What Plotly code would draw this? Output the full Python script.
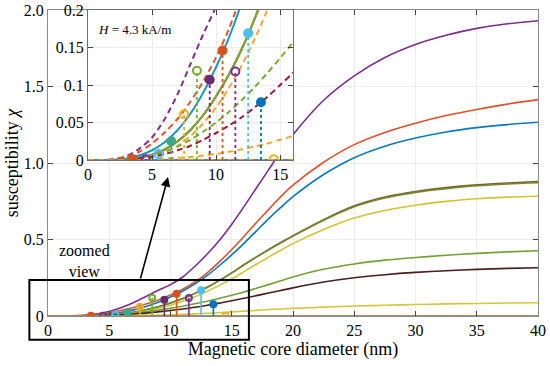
import plotly.graph_objects as go

# Diameter grid (nm)
diameter = [0, 1, 2, 3, 4, 5, 6, 7, 8, 9, 10, 11, 12, 13, 14, 15, 16, 17, 18, 19, 20,
            22.5, 25, 27.5, 30, 32.5, 35, 37.5, 40]

chi_purple = [0, 0, 0.001, 0.005, 0.015, 0.030, 0.055, 0.088, 0.128, 0.168, 0.205, 0.255, 0.325,
              0.405, 0.495, 0.600, 0.715, 0.835, 0.955, 1.075, 1.185,
              1.410, 1.570, 1.690, 1.775, 1.835, 1.880, 1.910, 1.930]
chi_red = [0, 0, 0.001, 0.004, 0.011, 0.022, 0.037, 0.055, 0.078, 0.105, 0.137, 0.175, 0.222,
           0.282, 0.355, 0.435, 0.520, 0.610, 0.695, 0.780, 0.855,
           1.005, 1.120, 1.200, 1.260, 1.310, 1.350, 1.385, 1.414]
chi_blue = [0, 0, 0, 0.002, 0.006, 0.013, 0.024, 0.040, 0.062, 0.090, 0.124, 0.163, 0.210,
            0.265, 0.330, 0.400, 0.475, 0.555, 0.635, 0.710, 0.780,
            0.925, 1.035, 1.110, 1.163, 1.203, 1.231, 1.251, 1.266]
chi_darkred = [0, 0, 0, 0.001, 0.003, 0.007, 0.014, 0.025, 0.040, 0.060, 0.085, 0.114, 0.148,
               0.188, 0.233, 0.282, 0.335, 0.385, 0.433, 0.480, 0.525,
               0.630, 0.720, 0.778, 0.814, 0.839, 0.857, 0.869, 0.878]
chi_green = [0, 0, 0, 0.001, 0.003, 0.007, 0.014, 0.025, 0.040, 0.060, 0.085, 0.114, 0.148,
             0.188, 0.233, 0.282, 0.335, 0.385, 0.433, 0.478, 0.522,
             0.626, 0.714, 0.771, 0.808, 0.832, 0.851, 0.863, 0.871]
chi_yellow = [0, 0, 0, 0.001, 0.002, 0.005, 0.010, 0.019, 0.032, 0.049, 0.070, 0.096, 0.126,
              0.161, 0.200, 0.243, 0.290, 0.338, 0.385, 0.430, 0.473,
              0.565, 0.640, 0.690, 0.724, 0.749, 0.766, 0.777, 0.783]
chi_green2 = [0, 0, 0, 0.001, 0.003, 0.006, 0.011, 0.018, 0.027, 0.038, 0.050, 0.064, 0.080,
              0.097, 0.116, 0.136, 0.157, 0.181, 0.205, 0.230, 0.255,
              0.305, 0.340, 0.365, 0.382, 0.397, 0.409, 0.419, 0.426]
chi_maroon = [0, 0, 0, 0.001, 0.002, 0.004, 0.008, 0.013, 0.019, 0.027, 0.036, 0.046, 0.057,
              0.070, 0.084, 0.100, 0.116, 0.133, 0.150, 0.167, 0.184,
              0.222, 0.250, 0.270, 0.285, 0.296, 0.305, 0.311, 0.315]
chi_low = [0, 0, 0, 0, 0, 0.001, 0.002, 0.003, 0.004, 0.006, 0.008, 0.011, 0.014,
           0.018, 0.022, 0.027, 0.032, 0.037, 0.042, 0.046, 0.050,
           0.058, 0.065, 0.070, 0.075, 0.079, 0.082, 0.085, 0.087]
chi_flat = [0] * len(diameter)

series = [chi_purple, chi_red, chi_blue, chi_darkred, chi_green, chi_yellow,
          chi_green2, chi_maroon, chi_low, chi_flat, chi_flat]
main_colors = ['#7B2D8E', '#E0502A', '#0A78BE', '#8A5A2A', '#6E8A30', '#D2C236',
               '#73A032', '#4A1E1E', '#D6C63C', '#1A96CC', '#C8803C']
inset_colors = ['#7E2F8E', '#E8542A', '#1A96CC', '#A2142F', '#77AC30', '#F0A832',
                '#77AC30', '#A2142F', '#F0A832', '#1A96CC', '#F08C32']
inset_dash = ['dash', 'dash', 'solid', 'solid', 'solid', 'dash',
              'dash', 'dash', 'dash', 'solid', 'dash']

# Critical-diameter stems
stem_d = [3.5, 4.5, 5.5, 6.5, 7.5, 8.5, 9.5, 10.5, 11.5, 12.5, 13.5, 14.5]
stem_chi = [0.001, 0.001, 0.008, 0.025, 0.061, 0.119, 0.107, 0.146, 0.118, 0.169, 0.077, 0.001]
stem_colors = ['#D95319', '#7E2F8E', '#4DBEEE', '#3FA58A', '#EDB120', '#77AC30',
               '#6A2C70', '#D95319', '#7E2F8E', '#4DBEEE', '#0072BD', '#EDB120']
stem_filled = [True, False, False, True, False, False, True, True, False, True, True, False]

x_ticks = [0, 5, 10, 15, 20, 25, 30, 35, 40]
y_ticks = [0, 0.5, 1.0, 1.5, 2.0]
y_ticklabels = ['0', '0.5', '1.0', '1.5', '2.0']
x2_ticks = [0, 5, 10, 15]
y2_ticks = [0, 0.05, 0.1, 0.15, 0.2]
y2_ticklabels = ['0', '0.05', '0.1', '0.15', '0.2']

FONT = 'Liberation Serif'

fig = go.Figure()

# main curves
for vals, col in zip(series, main_colors):
    fig.add_trace(go.Scatter(x=diameter, y=vals, mode='lines', line=dict(color=col, width=1.6, shape='spline', smoothing=0.8),
                             xaxis='x', yaxis='y', showlegend=False, hoverinfo='skip'))
# main stems
for d, c, col, filled in zip(stem_d, stem_chi, stem_colors, stem_filled):
    fig.add_trace(go.Scatter(x=[d, d], y=[0, c], mode='lines', line=dict(color=col, width=1.6),
                             xaxis='x', yaxis='y', showlegend=False, hoverinfo='skip'))
    fig.add_trace(go.Scatter(x=[d], y=[c], mode='markers',
                             marker=dict(symbol='circle' if filled else 'circle-open', size=6, color=col,
                                         line=dict(color=col, width=2)),
                             xaxis='x', yaxis='y', showlegend=False, hoverinfo='skip'))

# inset curves
for vals, col, dsh in zip(series, inset_colors, inset_dash):
    fig.add_trace(go.Scatter(x=diameter, y=vals, mode='lines',
                             line=dict(color=col, width=2, dash='6px,4px' if dsh == 'dash' else 'solid',
                                       shape='spline', smoothing=0.8),
                             xaxis='x2', yaxis='y2', showlegend=False, hoverinfo='skip'))
# inset stems
for d, c, col, filled in zip(stem_d, stem_chi, stem_colors, stem_filled):
    fig.add_trace(go.Scatter(x=[d, d], y=[0, c], mode='lines', line=dict(color=col, width=1.8, dash='dot'),
                             xaxis='x2', yaxis='y2', showlegend=False, hoverinfo='skip'))
    fig.add_trace(go.Scatter(x=[d], y=[c], mode='markers',
                             marker=dict(symbol='circle' if filled else 'circle-open', size=8, color=col,
                                         line=dict(color=col, width=2)),
                             xaxis='x2', yaxis='y2', showlegend=False, hoverinfo='skip'))

axis_common = dict(showline=True, mirror='ticks', ticks='inside', ticklen=5, zeroline=False,
                   showgrid=True, gridcolor='#ececec', gridwidth=1, automargin=False,
                   tickfont=dict(family=FONT, size=16, color='black'))

fig.update_layout(
    width=550, height=366,
    margin=dict(l=48, r=12, t=10, b=50),
    paper_bgcolor='white', plot_bgcolor='white',
    font=dict(family=FONT, color='black'),
    xaxis=dict(domain=[0, 1], range=[0, 40], tickvals=x_ticks, linecolor='#8a8a8a',
               title=dict(text='Magnetic core diameter (nm)', font=dict(family=FONT, size=18), standoff=2),
               **axis_common),
    yaxis=dict(domain=[0, 1], range=[0, 2], tickvals=y_ticks, ticktext=y_ticklabels, linecolor='#8a8a8a',
               title=dict(text='susceptibility <i>χ</i>', font=dict(family=FONT, size=18), standoff=0),
               **axis_common),
    xaxis2=dict(domain=[0.0816, 0.5], range=[0, 16], tickvals=x2_ticks, anchor='y2', linecolor='#707070',
                **axis_common),
    yaxis2=dict(domain=[0.5098, 1], range=[0, 0.2], tickvals=y2_ticks, ticktext=y2_ticklabels, anchor='x2',
                linecolor='#707070', **axis_common),
    shapes=[
        dict(type='rect', xref='x2', yref='y2', x0=0, x1=16, y0=0, y1=0.2, layer='below',
             fillcolor='white', line=dict(width=0)),
        dict(type='rect', xref='paper', yref='paper', x0=-0.038, x1=0.41, y0=-0.078, y1=0.118,
             layer='above', line=dict(color='black', width=2), fillcolor='rgba(0,0,0,0)'),
    ],
    annotations=[
        dict(text='<i>H</i> = 4.3 kA/m', xref='x2 domain', yref='y2 domain', x=0.04, y=0.87,
             xanchor='left', yanchor='middle', showarrow=False, font=dict(family=FONT, size=13)),
        dict(text='zoomed<br>view', xref='paper', yref='paper', x=0.074, y=0.18,
             xanchor='center', yanchor='middle', showarrow=False, align='center',
             font=dict(family=FONT, size=16)),
        dict(text='', xref='paper', yref='paper', x=0.245, y=0.454, ax=-28, ay=103,
             showarrow=True, arrowhead=2, arrowsize=1.2, arrowwidth=1.6, arrowcolor='black'),
    ],
)

fig.write_html('out.html', config={'displayModeBar': False},
               post_script="document.body.style.margin='0px';")
